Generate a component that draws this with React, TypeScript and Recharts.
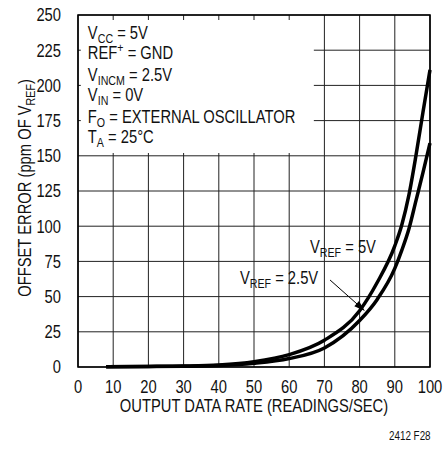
import React from "react"
import {
  LineChart,
  Line,
  XAxis,
  YAxis,
  CartesianGrid,
  ReferenceArea,
  ReferenceLine,
  ReferenceDot,
} from "recharts"

// no condensed Helvetica here, so squeeze Liberation Sans horizontally
const FONT = "'Liberation Sans', Arial, sans-serif"
const SQUEEZE = 0.82

// readings/sec on the x axis
const rates = [8, 20, 30, 40, 50, 60, 70, 80, 85, 90, 92, 94, 96, 98, 100]
// offset error in ppm of VREF
const vref25 = [0.2, 0.4, 0.7, 1.5, 3.8, 8.8, 19, 40, 60, 86, 101, 122, 150, 181, 211]
const vref5 = [0.1, 0.3, 0.5, 1, 2.6, 6, 13.5, 33, 48, 70, 83, 98, 118, 138, 159]

const xTicks = [0, 10, 20, 30, 40, 50, 60, 70, 80, 90, 100]
const yTicks = [0, 25, 50, 75, 100, 125, 150, 175, 200, 225, 250]

const data = rates.map((r, i) => ({ rate: r, v25: vref25[i], v5: vref5[i] }))

const SZ = 18
const SUB = 13

// a line of text with optional sub/superscript parts
type Part = { t: string; sub?: boolean; sup?: boolean }

function richText(
  x: number,
  y: number,
  parts: Part[],
  opts: { anchor?: string; rotate?: number; size?: number; dy?: string } = {}
) {
  let shift = 0
  const size = opts.size || SZ
  return (
    <g transform={`translate(${x},${y}) rotate(${opts.rotate || 0}) scale(${SQUEEZE},1)`}>
      <text
        x={0}
        y={0}
        dy={opts.dy}
        fontFamily={FONT}
        fontSize={size}
        fill="#111"
        textAnchor={opts.anchor || "start"}
      >
        {parts.map((p, i) => {
          const want = p.sub ? 4 : p.sup ? -7 : 0
          const dy = want - shift
          shift = want
          return (
            <tspan key={i} dy={dy || undefined} fontSize={p.sub || p.sup ? SUB : size}>
              {p.t}
            </tspan>
          )
        })}
      </text>
    </g>
  )
}

const boxLines: { x: number; y: number; parts: Part[] }[] = [
  { x: 2.8, y: 232.9, parts: [{ t: "V" }, { t: "CC", sub: true }, { t: " = 5V" }] },
  { x: 2.8, y: 218.8, parts: [{ t: "REF" }, { t: "+", sup: true }, { t: " = GND" }] },
  { x: 2.8, y: 203.1, parts: [{ t: "V" }, { t: "INCM", sub: true }, { t: " = 2.5V" }] },
  { x: 2.8, y: 188.9, parts: [{ t: "V" }, { t: "IN", sub: true }, { t: " = 0V" }] },
  { x: 2.8, y: 173.3, parts: [{ t: "F" }, { t: "O", sub: true }, { t: " = EXTERNAL OSCILLATOR" }] },
  { x: 2.8, y: 159.1, parts: [{ t: "T" }, { t: "A", sub: true }, { t: " = 25°C" }] },
]

function ArrowHead(props: any) {
  const { cx, cy } = props
  // arrow comes in from upper left
  const ang = Math.atan2(31, 35)
  const L = 11
  const W = 3.5
  const bx = cx - L * Math.cos(ang)
  const by = cy - L * Math.sin(ang)
  const px = -Math.sin(ang) * W
  const py = Math.cos(ang) * W
  return <polygon points={`${cx},${cy} ${bx + px},${by + py} ${bx - px},${by - py}`} fill="#000" />
}

const XTick = (p: any) => richText(p.x, p.y, [{ t: String(p.payload.value) }], { anchor: "middle", dy: "0.71em" })
const YTick = (p: any) => richText(p.x, p.y, [{ t: String(p.payload.value) }], { anchor: "end", dy: "0.36em" })

export default function App() {
  return (
    <div style={{ position: "absolute", left: 0, top: 0, width: 446, height: 451, background: "#fff" }}>
      <LineChart width={446} height={451} data={data} margin={{ top: 15, right: 16, left: 0, bottom: 0 }}>
        <CartesianGrid stroke="#222" strokeWidth={1} horizontalValues={yTicks} verticalValues={xTicks} />
        <XAxis
          type="number"
          dataKey="rate"
          domain={[0, 100]}
          ticks={xTicks}
          interval={0}
          height={84}
          axisLine={false}
          tickLine={false}
          tickMargin={7}
          tick={XTick}
          label={({ viewBox }: any) =>
            richText(viewBox.x + viewBox.width / 2, viewBox.y + 45, [{ t: "OUTPUT DATA RATE (READINGS/SEC)" }], {
              anchor: "middle",
            })
          }
        />
        <YAxis
          type="number"
          domain={[0, 250]}
          ticks={yTicks}
          interval={0}
          width={78}
          axisLine={false}
          tickLine={false}
          tickMargin={11}
          tick={YTick}
          label={({ viewBox }: any) =>
            richText(
              31,
              viewBox.y + viewBox.height / 2 - 3,
              [{ t: "OFFSET ERROR (ppm OF V" }, { t: "REF", sub: true }, { t: ")" }],
              { anchor: "middle", rotate: -90 }
            )
          }
        />
        {/* blank box for the conditions text */}
        <ReferenceArea x1={0.8} x2={67} y1={152} y2={246.5} fill="#fff" fillOpacity={1} stroke="none" />
        <ReferenceArea x1={0} x2={100} y1={0} y2={250} fill="none" stroke="#000" strokeWidth={1.6} />
        {boxLines.map((b, i) => (
          <ReferenceDot key={i} x={b.x} y={b.y} r={0} shape={(p: any) => richText(p.cx, p.cy, b.parts)} />
        ))}
        <Line
          type="monotone"
          dataKey="v25"
          stroke="#000"
          strokeWidth={3.5}
          dot={false}
          isAnimationActive={false}
        />
        <Line
          type="monotone"
          dataKey="v5"
          stroke="#000"
          strokeWidth={3.5}
          dot={false}
          isAnimationActive={false}
        />
        <ReferenceLine
          segment={[
            { x: 71.6, y: 61.8 },
            { x: 80.2, y: 42.7 },
          ]}
          stroke="#000"
          strokeWidth={1}
        />
        <ReferenceDot x={81.5} y={39.8} r={0} shape={ArrowHead} />
        <ReferenceDot
          x={46}
          y={59}
          r={0}
          shape={(p: any) => richText(p.cx, p.cy, [{ t: "V" }, { t: "REF", sub: true }, { t: " = 2.5V" }])}
        />
        <ReferenceDot
          x={65.9}
          y={81}
          r={0}
          shape={(p: any) => richText(p.cx, p.cy, [{ t: "V" }, { t: "REF", sub: true }, { t: " = 5V" }])}
        />
      </LineChart>
      <div
        style={{
          position: "absolute",
          left: 389,
          top: 429,
          fontFamily: FONT,
          fontSize: 12,
          color: "#111",
          transform: `scaleX(${SQUEEZE})`,
          transformOrigin: "left top",
        }}
      >
        2412 F28
      </div>
    </div>
  )
}
